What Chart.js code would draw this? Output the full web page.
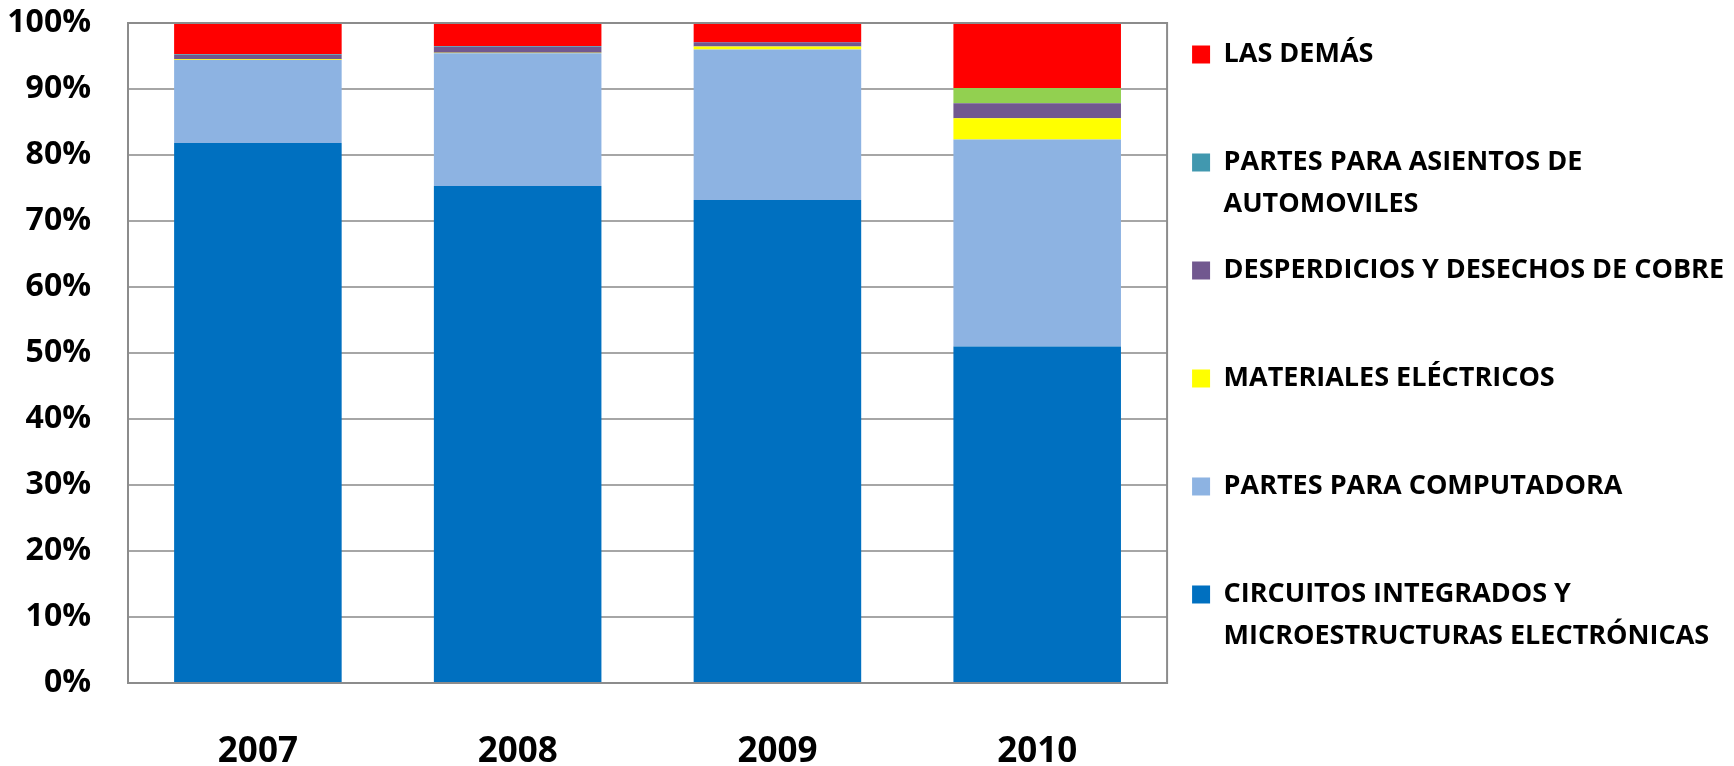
<!DOCTYPE html>
<html>
<head>
<meta charset="utf-8">
<script src="https://cdn.jsdelivr.net/npm/chart.js@4/dist/chart.umd.min.js"></script>
<style>
  html, body { margin: 0; padding: 0; background: #ffffff; }
  canvas { display: block; }
</style>
</head>
<body>
<canvas id="chart" width="1734" height="766"></canvas>
<script>
const years = ["2007", "2008", "2009", "2010"];

// shares in %, stacked from the bottom up
const circuitos = [81.8, 75.3, 73.2, 51.0];
const computadora = [12.6, 20.1, 22.8, 31.35];
const materiales = [0.1, 0.1, 0.45, 3.2];
const desperdicios = [0.65, 0.9, 0.65, 2.3];
const asientos = [0.1, 0.1, 0.0, 0.0];
const sinNombre = [0.0, 0.0, 0.0, 2.3];
const lasDemas = [4.75, 3.5, 2.9, 9.85];

const yTicks = [0, 10, 20, 30, 40, 50, 60, 70, 80, 90, 100];

const FONT = "'Open Sans', 'DejaVu Sans', sans-serif";
const GRID_COLOUR = "#a6a6a6";
const BORDER_COLOUR = "#8c8c8c";

Chart.defaults.font.family = FONT;
Chart.defaults.font.weight = "bold";
Chart.defaults.color = "#000000";

function dataset(label, data, colour, inLegend = true) {
  return {
    label: label,
    data: data,
    backgroundColor: colour,
    borderWidth: 0,
    inLegend: inLegend,
  };
}

// box around the plot, drawn over the bars like in the spreadsheet
const plotBorder = {
  id: "plotBorder",
  afterDatasetsDraw(chart) {
    const { ctx, chartArea } = chart;
    ctx.save();
    ctx.strokeStyle = BORDER_COLOUR;
    ctx.lineWidth = 2;
    ctx.strokeRect(
      chartArea.left,
      chartArea.top,
      chartArea.right - chartArea.left,
      chartArea.bottom - chartArea.top
    );
    ctx.restore();
  },
};

const datasets = [
  dataset(["CIRCUITOS INTEGRADOS Y", "MICROESTRUCTURAS ELECTRÓNICAS"], circuitos, "#0070c0"),
  dataset("PARTES PARA COMPUTADORA", computadora, "#8db3e2"),
  dataset("MATERIALES ELÉCTRICOS", materiales, "#ffff00"),
  dataset("DESPERDICIOS Y DESECHOS DE COBRE", desperdicios, "#71588f"),
  dataset(["PARTES PARA ASIENTOS DE", "AUTOMOVILES"], asientos, "#4198af"),
  dataset("", sinNombre, "#92d050", false),
  dataset("LAS DEMÁS", lasDemas, "#ff0000"),
];

new Chart(document.getElementById("chart").getContext("2d"), {
  type: "bar",
  data: { labels: years, datasets: datasets },
  plugins: [plotBorder],
  options: {
    responsive: false,
    animation: false,
    devicePixelRatio: 1,
    layout: { padding: { top: 16, right: 0, bottom: 0, left: 0 } },
    datasets: {
      bar: { categoryPercentage: 1.0, barPercentage: 0.645 },
    },
    scales: {
      x: {
        stacked: true,
        grid: { display: false, drawTicks: false },
        border: { display: false },
        ticks: {
          padding: 48,
          font: { size: 35, weight: "bold" },
          color: "#000000",
        },
        afterFit: (scale) => {
          scale.height = 83;
        },
      },
      y: {
        stacked: true,
        min: 0,
        max: 100,
        grid: {
          color: GRID_COLOUR,
          lineWidth: 2,
          drawTicks: true,
          tickLength: 34,
          tickColor: "rgba(0,0,0,0)",
        },
        border: { display: false },
        afterBuildTicks: (scale) => {
          scale.ticks = yTicks.map((v) => ({ value: v }));
        },
        ticks: {
          padding: 3,
          font: { size: 32, weight: "bold", lineHeight: 1.25 },
          color: "#000000",
          callback: (value) => value + "%",
        },
        afterFit: (scale) => {
          scale.width = 128;
        },
      },
    },
    plugins: {
      tooltip: { enabled: false },
      legend: {
        position: "right",
        align: "start",
        reverse: true,
        maxWidth: 569,
        onClick: () => {},
        labels: {
          boxWidth: 18,
          boxHeight: 18,
          padding: 25,
          color: "#000000",
          font: { size: 27, weight: "bold", lineHeight: 1.537 },
          filter: (item, data) => data.datasets[item.datasetIndex].inLegend,
          generateLabels: (chart) =>
            Chart.defaults.plugins.legend.labels
              .generateLabels(chart)
              .map((item) => {
                // every entry gets two lines so the spacing is even
                const text = Array.isArray(item.text) ? item.text : [item.text, ""];
                return { ...item, text: text, lineWidth: 0 };
              }),
        },
      },
    },
  },
});
</script>
</body>
</html>
